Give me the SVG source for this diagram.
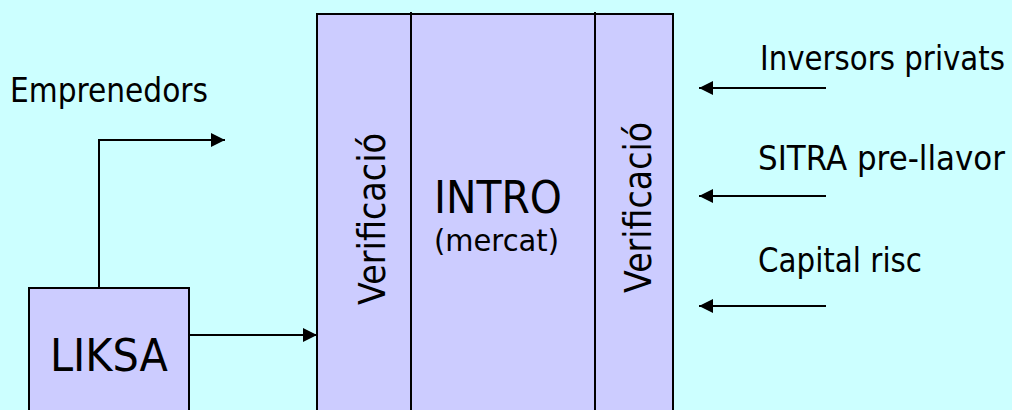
<svg xmlns="http://www.w3.org/2000/svg" width="1012" height="410" viewBox="0 0 1012 410">
  <style>
    .box { fill: #CCCCFF; stroke: #000; stroke-width: 2; }
    .div { stroke: #000; stroke-width: 2; fill: none; }
    .wire { stroke: #000; stroke-width: 2; fill: none; marker-end: url(#head); }
    text { font-family: "DejaVu Sans", "Liberation Sans", sans-serif; fill: #000; }
    .lbl { font-size: 33px; }
    .big { font-size: 45px; }
    .ver { font-size: 37px; }
  </style>
  <defs>
    <marker id="head" viewBox="0 0 14 14" refX="14" refY="7" markerWidth="14" markerHeight="14" markerUnits="userSpaceOnUse" orient="auto">
      <path d="M0,0 L14,7 L0,14 Z" fill="#000"/>
    </marker>
  </defs>
  <rect width="1012" height="410" fill="#CCFFFF"/>

  <!-- central market block with two verification bands -->
  <g id="intro">
    <rect class="box" x="317" y="14" width="356" height="410"/>
    <line class="div" x1="411" y1="12" x2="411" y2="412"/>
    <line class="div" x1="595" y1="12" x2="595" y2="412"/>
    <text class="big" x="434" y="213" textLength="128" lengthAdjust="spacingAndGlyphs">INTRO</text>
    <text x="434" y="251" font-size="30" textLength="125" lengthAdjust="spacingAndGlyphs">(mercat)</text>
  </g>
  <g id="verif-left">
    <text class="ver" transform="translate(385 305) rotate(-90)" textLength="172" lengthAdjust="spacingAndGlyphs">Verificació</text>
  </g>
  <g id="verif-right">
    <text class="ver" transform="translate(651 293) rotate(-90)" textLength="171" lengthAdjust="spacingAndGlyphs">Verificació</text>
  </g>

  <g id="liksa">
    <rect class="box" x="29" y="288" width="160" height="140"/>
    <text class="big" x="50" y="371" textLength="118" lengthAdjust="spacingAndGlyphs">LIKSA</text>
  </g>

  <g id="emprenedors">
    <text class="lbl" x="10" y="102" textLength="198" lengthAdjust="spacingAndGlyphs">Emprenedors</text>
  </g>
  <g id="inversors">
    <text class="lbl" x="760" y="70" textLength="245" lengthAdjust="spacingAndGlyphs">Inversors privats</text>
  </g>
  <g id="sitra">
    <text class="lbl" x="758" y="170" textLength="247" lengthAdjust="spacingAndGlyphs">SITRA pre-llavor</text>
  </g>
  <g id="capital">
    <text class="lbl" x="758" y="272" textLength="164" lengthAdjust="spacingAndGlyphs">Capital risc</text>
  </g>

  <g id="connectors">
    <path class="wire" d="M99,288 V140 H225"/>
    <path class="wire" d="M189,335 H317"/>
    <path class="wire" d="M826,88 H699"/>
    <path class="wire" d="M826,196 H699"/>
    <path class="wire" d="M826,306 H699"/>
  </g>
</svg>
